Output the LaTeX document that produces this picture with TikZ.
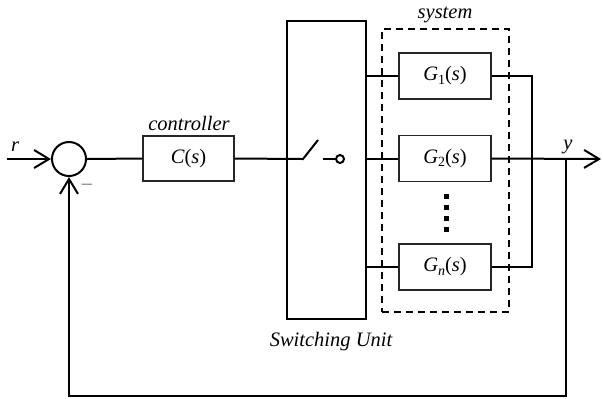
\documentclass[tikz,border=0pt]{standalone}
\usepackage{fontspec}
\setmainfont{Liberation Serif}
\usetikzlibrary{arrows.meta}
\begin{document}
\begin{tikzpicture}[x=0.5pt,y=-0.5pt,
  font=\fontsize{10.25}{12}\selectfont,
  wire/.style={line width=1pt},
  blockbox/.style={draw=black!85, line width=0.65pt, minimum width=46pt, minimum height=23pt, inner sep=0pt},
  lbl/.style={font=\fontsize{10.25}{12}\selectfont\itshape, inner sep=0pt},
  arr/.style={-{Straight Barb[length=7.5pt,width=9pt,line width=1pt]}}]
\useasboundingbox (0,0) rectangle (603,398);
\newcommand{\Gsub}[1]{\textit{G}\raisebox{-0.35ex}{\fontsize{7}{8}\selectfont #1}(\textit{s})}

% summing junction
\node[circle, draw, line width=1pt, minimum size=17pt, inner sep=0pt] (sum) at (69,159) {};
\coordinate (rin) at (7,159);
\draw[wire,arr] (rin) -- (sum.west);
\node[lbl] (rl) at (15,147) {r};
\node[text=black!55, inner sep=0pt] (minus) at (87,187) {–};

% controller
\node[blockbox, minimum width=45.5pt, minimum height=22.5pt] (C) at (188.5,158.5) {\textit{C}(\textit{s})};
\node[lbl] (cl) at (189,123) {controller};
\draw[wire] (sum.east) -- (C.west);

% switching unit
\node[draw, line width=1pt, minimum width=39.5pt, minimum height=149pt, inner sep=0pt] (sw) at (326.5,170) {};
\node[lbl] (swl) at (331,342) {Switching Unit};
\coordinate (piv) at (303,159);
\coordinate (blade) at (318,140);
\coordinate (d1) at (323,159);
\node[circle, draw, line width=1pt, minimum size=4pt, inner sep=0pt] (term) at (340,159) {};
\draw[wire] (C.east) -- (piv) -- (blade);
\draw[wire] (d1) -- (term.west);

% system
\node[draw, line width=1pt, dash pattern=on 3.5pt off 2.5pt, minimum width=63.5pt, minimum height=141.5pt, inner sep=0pt] (sys) at (445.5,170.5) {};
\node[lbl] (sysl) at (445,15) {system};
\node[blockbox] (G1) at (445,76) {\Gsub{1}};
\node[blockbox] (G2) at (445,158.5) {\Gsub{2}};
\node[blockbox] (Gn) at (445,267) {\textit{G}\raisebox{-0.35ex}{\fontsize{7}{8}\selectfont\itshape n}(\textit{s})};
\foreach \yy in {196,207,218,229}{
  \fill (443.5,\yy-2.5) rectangle +(5,5);
}
\draw[wire] (G1.west -| sw.east) -- (G1.west);
\draw[wire] (G2.west -| sw.east) -- (G2.west);
\draw[wire] (Gn.west -| sw.east) -- (Gn.west);

% outputs
\coordinate (m1) at (532,76);
\coordinate (mn) at (532,267);
\draw[wire] (G1.east) -- (m1) -- (mn) -- (Gn.east);
\coordinate (out) at (601,159);
\draw[wire,arr] (G2.east) -- (out);
\node[lbl] (yl) at (568,147) {y};

% feedback
\coordinate (tap) at (566,159);
\coordinate (b1) at (566,396);
\coordinate (b0) at (69,396);
\draw[wire,arr] (tap) -- (b1) -- (b0) -- (sum.south);
\end{tikzpicture}
\end{document}
